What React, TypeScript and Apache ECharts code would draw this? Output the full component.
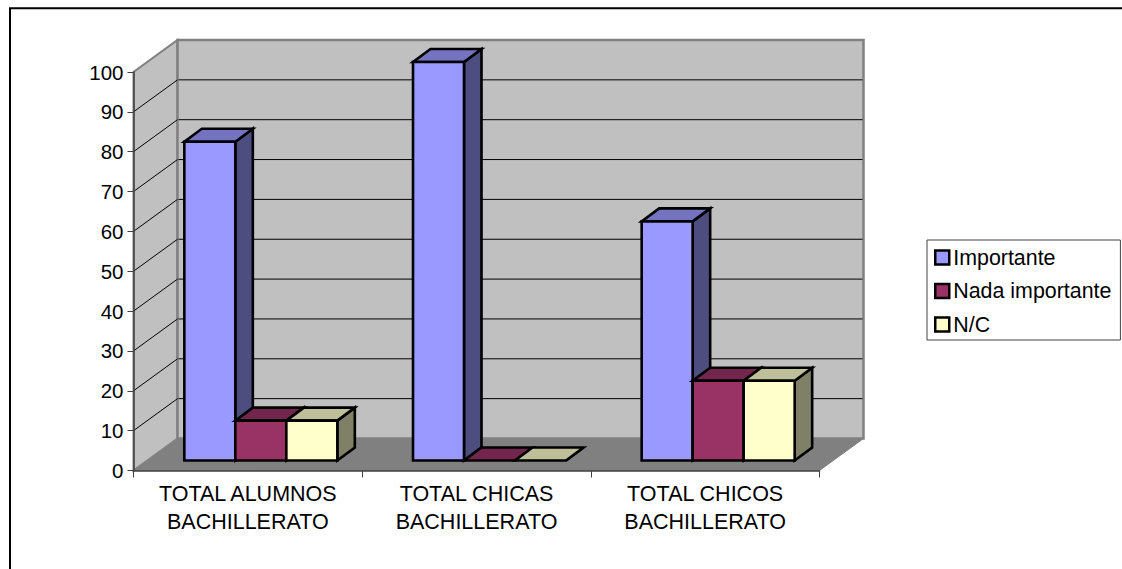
import React, { useEffect, useRef } from "react";
import * as echarts from "echarts";

const categories = ["TOTAL ALUMNOS\nBACHILLERATO", "TOTAL CHICAS\nBACHILLERATO", "TOTAL CHICOS\nBACHILLERATO"];
const seriesNames = ["Importante", "Nada importante", "N/C"];
const importante = [80, 100, 60];
const nadaImportante = [10, 0, 20];
const noContesta = [10, 0, 20];
const gridLevels = [10, 20, 30, 40, 50, 60, 70, 80, 90];

const frontColors = ["#9999FF", "#993366", "#FFFFCC"];
const topColors = ["#7373BF", "#73264D", "#BFBF99"];
const sideColors = ["#4D4D80", "#4D1A33", "#808066"];

const FONT = "Liberation Sans, Arial, sans-serif";
const GRID = { left: 133.5, top: 72, width: 686, height: 398.5 };
const DEPTH = { x: 44, y: -32 };
const BAR_BASE = { x: 13, y: -10 };
const BAR_DEPTH = { x: 17.5, y: -13 };
const BAR_SHARE = 51 / 228.67;

const poly = (points: number[][], fill: string, stroke: string, lineWidth: number) => ({
  type: "polygon",
  shape: { points },
  style: { fill, stroke, lineWidth, lineJoin: "miter" },
});

const line = (a: number[], b: number[], stroke: string, lineWidth: number) => ({
  type: "line",
  shape: { x1: a[0], y1: a[1], x2: b[0], y2: b[1] },
  style: { stroke, lineWidth },
});

function renderChrome(_: any, api: any) {
  const cats = categories.length;
  const fl = api.coord([0, 0]);
  const halfCat = api.size([1, 0])[0] / 2;
  const x0 = fl[0] - halfCat;
  const x1 = api.coord([cats - 1, 0])[0] + halfCat;
  const y0 = fl[1];
  const y100 = api.coord([0, 100])[1];
  const bx0 = x0 + DEPTH.x;
  const bx1 = x1 + DEPTH.x;
  const children: any[] = [
    poly([[x0, y0], [x1, y0], [bx1, y0 + DEPTH.y], [bx0, y0 + DEPTH.y]], "#808080", "#808080", 1),
    poly([[x0, y0], [bx0, y0 + DEPTH.y], [bx0, y100 + DEPTH.y], [x0, y100]], "#C0C0C0", "#808080", 2),
    poly([[bx0, y0 + DEPTH.y], [bx1, y0 + DEPTH.y], [bx1, y100 + DEPTH.y], [bx0, y100 + DEPTH.y]], "#C0C0C0", "#808080", 2.5),
  ];
  gridLevels.forEach((v) => {
    const y = api.coord([0, v])[1];
    children.push(line([x0, y], [bx0, y + DEPTH.y], "#000000", 1));
    children.push(line([bx0 + 1, y + DEPTH.y], [bx1 - 1, y + DEPTH.y], "#000000", 1));
  });
  return { type: "group", children };
}

const renderBar = (seriesIndex: number) => (_: any, api: any) => {
  const cat = api.value(0);
  const catWidth = api.size([1, 0])[0];
  const w = catWidth * BAR_SHARE;
  const center = api.coord([cat, 0])[0];
  const x = center - (w * seriesNames.length) / 2 + w * seriesIndex + BAR_BASE.x;
  const base = api.coord([cat, 0])[1] + BAR_BASE.y;
  const top = api.coord([cat, api.value(1)])[1] + BAR_BASE.y;
  const dx = BAR_DEPTH.x;
  const dy = BAR_DEPTH.y;
  const children: any[] = [
    poly([[x + w, base], [x + w + dx, base + dy], [x + w + dx, top + dy], [x + w, top]], sideColors[seriesIndex], "#000000", 2.6),
    poly([[x, top], [x + w, top], [x + w + dx, top + dy], [x + dx, top + dy]], topColors[seriesIndex], "#000000", 2.6),
  ];
  if (base - top > 0.5) {
    children.push(poly([[x, base], [x + w, base], [x + w, top], [x, top]], frontColors[seriesIndex], "#000000", 2.6));
  }
  return { type: "group", children };
};

const seriesValues = [importante, nadaImportante, noContesta];

export default function App() {
  const ref = useRef<HTMLDivElement>(null);
  useEffect(() => {
    const chart = echarts.init(ref.current!, undefined, { renderer: "svg" });
    chart.setOption({
      animation: false,
      backgroundColor: "#FFFFFF",
      textStyle: { fontFamily: FONT },
      grid: { ...GRID },
      legend: {
        orient: "vertical",
        left: 927,
        top: 240,
        padding: [5, 9, 3, 7],
        itemWidth: 14,
        itemHeight: 14,
        itemGap: 8.5,
        borderColor: "#404040",
        borderWidth: 1,
        backgroundColor: "#FFFFFF",
        selectedMode: false,
        textStyle: { fontFamily: FONT, fontSize: 21.4, color: "#000000", padding: [0, 0, 0, -1], lineHeight: 25 },
        data: seriesNames.map((name, i) => ({
          name,
          icon: "rect",
          itemStyle: { color: frontColors[i], borderColor: "#000000", borderWidth: 2.5 },
        })),
      },
      xAxis: {
        type: "category",
        data: categories,
        z: 4,
        axisLine: { lineStyle: { color: "#404040", width: 1.5 } },
        axisTick: { show: true, alignWithLabel: false, length: 7, lineStyle: { color: "#404040", width: 1 } },
        axisLabel: { color: "#000000", fontFamily: FONT, fontSize: 21.5, lineHeight: 28, margin: 9, interval: 0 },
        splitLine: { show: false },
      },
      yAxis: {
        type: "value",
        min: 0,
        max: 100,
        interval: 10,
        z: 4,
        axisLine: { show: true, lineStyle: { color: "#404040", width: 1.5 } },
        axisTick: { show: true, length: 6, lineStyle: { color: "#404040", width: 1 } },
        axisLabel: { color: "#000000", fontFamily: FONT, fontSize: 20.5, margin: 10 },
        splitLine: { show: false },
      },
      graphic: [
        {
          type: "polyline",
          silent: true,
          shape: { points: [[10, 569], [10, 8.3], [1122, 8.3]] },
          style: { stroke: "#000000", lineWidth: 2, fill: "none" },
        },
      ],
      series: [
        {
          type: "custom",
          name: "chrome",
          silent: true,
          z: 1,
          renderItem: renderChrome,
          data: [[0, 0]],
          encode: { x: 0, y: 1 },
        },
        ...seriesNames.map((name, i) => ({
          type: "custom",
          name,
          z: 2,
          itemStyle: { color: frontColors[i] },
          renderItem: renderBar(i),
          data: seriesValues[i].map((v, c) => [c, v]),
          encode: { x: 0, y: 1 },
        })),
      ],
    });
    return () => chart.dispose();
  }, []);
  return <div ref={ref} style={{ position: "absolute", left: 0, top: 0, width: 1122, height: 569 }} />;
}
